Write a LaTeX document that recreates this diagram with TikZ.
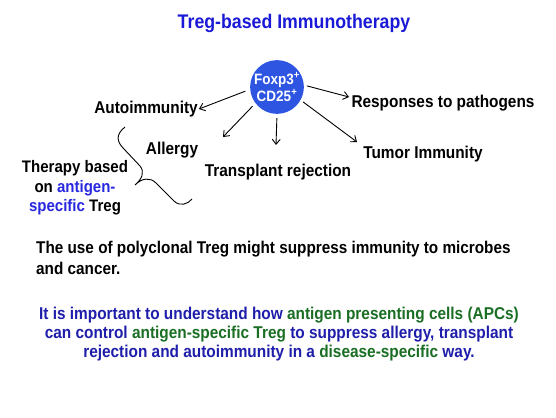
\documentclass[tikz,border=0pt]{standalone}
\usepackage{fontspec}
\setmainfont[FakeStretch=0.9]{Liberation Sans}
\usetikzlibrary{arrows.meta}
\definecolor{titleblue}{RGB}{25,25,215}
\definecolor{cellblue}{RGB}{45,85,225}
\definecolor{darkblue}{RGB}{30,30,170}
\definecolor{brightblue}{RGB}{40,40,225}
\definecolor{dgreen}{RGB}{25,110,35}
\begin{document}
\begin{tikzpicture}[x=1pt,y=-1pt,
  lbl/.style={font=\fontsize{17.1}{20}\selectfont\bfseries, inner sep=1pt},
  arr/.style={line width=0.9pt, -{Straight Barb[length=5pt,width=8pt]}}]
\useasboundingbox (0,0) rectangle (556,417);
\node[font=\fontsize{19.7}{23}\selectfont\bfseries, text=titleblue] (title) at (294,23) {Treg-based Immunotherapy};
\node[circle, fill=cellblue, minimum size=52pt, inner sep=0pt, text=white, align=center,
  font=\fontsize{15}{17}\selectfont\bfseries] (cell) at (277,87) {Foxp3\textsuperscript{+}\\CD25\textsuperscript{+}};
\node[lbl] (auto) at (146,109) {Autoimmunity};
\node[lbl] (allergy) at (172,150) {Allergy};
\node[lbl] (trans) at (278,172) {Transplant rejection};
\node[lbl] (resp) at (443,103) {Responses to pathogens};
\node[lbl] (tumor) at (423,154) {Tumor Immunity};
\node[font=\fontsize{16.7}{19.5}\selectfont\bfseries, align=center] (therapy) at (75,188)
  {Therapy based\\on \textcolor{brightblue}{antigen-}\\\textcolor{brightblue}{specific} Treg};
\coordinate (e1) at (223,137);
\coordinate (e2) at (276,145);
\coordinate (e3) at (349,97);
\coordinate (e4) at (357,142);
\draw[arr, shorten <=5pt] (cell.185) -- (auto.east);
\draw[arr, shorten <=4pt] (cell.217) -- (e1);
\draw[arr, shorten <=4pt] (cell.270) -- (e2);
\draw[arr, shorten <=3pt] (cell.4) -- (e3);
\draw[arr, shorten <=3pt] (cell.331) -- (e4);
\draw[line width=0.9pt] (125,127) .. controls (115,135) and (117,142) .. (124,149) -- (140,166)
  .. controls (145,172) and (142,179) .. (135,185)
  .. controls (142,178) and (150,177) .. (156,183) -- (174,201)
  .. controls (180,207) and (188,204) .. (192,199);
\node[font=\fontsize{17}{21}\selectfont\bfseries, align=left, anchor=west, inner sep=0pt] (use) at (36,257.5)
  {The use of polyclonal Treg might suppress immunity to microbes\\and cancer.};
\node[font=\fontsize{17.1}{19}\selectfont\bfseries, align=center, text=darkblue] (imp) at (279,334)
  {It is important to understand how \textcolor{dgreen}{antigen presenting cells (APCs)}\\
   can control \textcolor{dgreen}{antigen-specific Treg} to suppress allergy, transplant\\
   rejection and autoimmunity in a \textcolor{dgreen}{disease-specific} way.};
\end{tikzpicture}
\end{document}
